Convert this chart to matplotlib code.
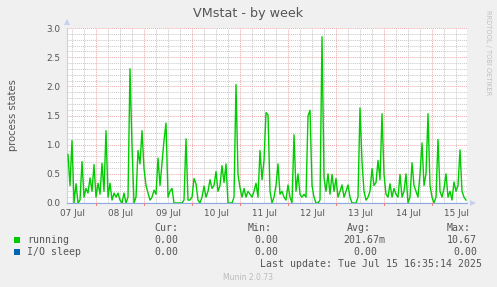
import matplotlib
matplotlib.use("Agg")
import matplotlib.pyplot as plt
from matplotlib.patches import Rectangle, Polygon
import numpy as np

# ---- data (hourly samples, hours since 07 Jul 00:00) ----
start_hour = 10
running = [
    0.83, 0.30, 1.07, 0.00, 0.33, 0.00, 0.05, 0.71, 0.10, 0.25,  # 10-19
    0.17, 0.43, 0.20, 0.66, 0.10, 0.34, 0.15, 0.68, 0.20, 1.24,  # 20-29
    0.10, 0.34, 0.05, 0.17, 0.10, 0.17, 0.05, 0.00, 0.17, 0.00,  # 30-39
    0.10, 2.30, 0.97, 0.00, 0.10, 0.90, 0.67, 1.24, 0.59, 0.30,  # 40-49
    0.17, 0.05, 0.10, 0.22, 0.15, 0.77, 0.30, 0.69, 1.07, 1.37,  # 50-59
    0.10, 0.20, 0.25, 0.00, 0.00, 0.00, 0.00, 0.00, 0.05, 1.10,  # 60-69
    0.05, 0.05, 0.10, 0.42, 0.33, 0.05, 0.00, 0.10, 0.29, 0.10,  # 70-79
    0.20, 0.40, 0.25, 0.30, 0.54, 0.20, 0.30, 0.64, 0.35, 0.67,  # 80-89
    0.00, 0.00, 0.00, 0.10, 2.03, 0.49, 0.26, 0.10, 0.25, 0.10,  # 90-99
    0.20, 0.15, 0.10, 0.20, 0.34, 0.10, 0.90, 0.40, 0.73, 1.55,  # 100-109
    1.51, 0.20, 0.00, 0.10, 0.30, 0.67, 0.15, 0.20, 0.10, 0.05,  # 110-119
    0.31, 0.10, 0.00, 1.17, 0.20, 0.50, 0.15, 0.10, 0.15, 0.10,  # 120-129
    1.49, 1.59, 0.30, 0.10, 0.00, 0.00, 0.05, 2.85, 0.43, 0.20,  # 130-139
    0.50, 0.15, 0.49, 0.20, 0.42, 0.10, 0.20, 0.31, 0.10, 0.20,  # 140-149
    0.31, 0.10, 0.00, 0.00, 0.00, 0.10, 1.63, 0.71, 0.20, 0.05,  # 150-159
    0.10, 0.20, 0.59, 0.30, 0.35, 0.73, 0.40, 1.53, 0.49, 0.15,  # 160-169
    0.10, 0.33, 0.10, 0.25, 0.15, 0.10, 0.49, 0.10, 0.20, 0.50,  # 170-179
    0.00, 0.10, 0.69, 0.30, 0.20, 0.10, 0.50, 1.03, 0.30, 0.50,  # 180-189
    1.53, 0.30, 0.10, 0.00, 0.10, 1.09, 0.20, 0.10, 0.25, 0.50,  # 190-199
    0.10, 0.20, 0.05, 0.36, 0.20, 0.30, 0.91, 0.20, 0.10, 0.05,  # 200-209
]
io_sleep = [0.0] * len(running)
hours = np.arange(start_hour, start_hour + len(running))

day_labels = ["07 Jul", "08 Jul", "09 Jul", "10 Jul", "11 Jul",
              "12 Jul", "13 Jul", "14 Jul", "15 Jul"]
y_ticks = [0.0, 0.5, 1.0, 1.5, 2.0, 2.5, 3.0]

series_names = ["running", "I/O sleep"]
series_colors = ["#00CC00", "#0066B3"]
cur = ["0.00", "0.00"]
mins = ["0.00", "0.00"]
avgs = ["201.67m", "0.00"]
maxs = ["10.67", "0.00"]

# ---- figure ----
W, H = 497, 287
fig = plt.figure(figsize=(W / 100, H / 100), dpi=100, facecolor="#F0F0F0")

def fx(x):
    return x / W

def fy(y):
    return 1 - y / H

L, R, T, B = 67, 467, 28, 203
ax = fig.add_axes([fx(L), fy(B), (R - L) / W, (B - T) / H])
ax.set_facecolor("white")
xmin, xmax = 9.5, 209.5
ax.set_xlim(xmin, xmax)
ax.set_ylim(0, 3.0)

# grid
minor_c = "#C8C8C8"
major_c = "#F0A8A8"
for v in np.arange(0.1, 3.01, 0.1):
    if abs(v * 2 - round(v * 2)) < 1e-6:
        continue
    ax.axhline(v, color=minor_c, lw=0.7, ls=(0, (1, 1)), zorder=1)
for v in np.arange(0.5, 3.01, 0.5):
    ax.axhline(v, color=major_c, lw=0.7, ls=(0, (1, 1)), zorder=1)
for h in np.arange(12, xmax, 6):
    if h % 24 == 0:
        continue
    ax.axvline(h, color=minor_c, lw=0.7, ls=(0, (1, 1)), zorder=1)
for h in np.arange(24, xmax, 24):
    ax.axvline(h, color=major_c, lw=0.7, ls=(0, (1, 1)), zorder=1)

ax.plot(hours, running, color=series_colors[0], lw=1.0, zorder=3)
ax.plot(hours, io_sleep, color=series_colors[1], lw=0.8, alpha=0.5, zorder=4)

for s in ["top", "right"]:
    ax.spines[s].set_visible(False)
ax.spines["left"].set_color("#C8D0F0")
ax.spines["bottom"].set_color("#90A8E0")
ax.spines["left"].set_linewidth(0.8)
ax.spines["bottom"].set_linewidth(0.8)

ax.set_yticks(y_ticks)
ax.set_yticklabels([f"{v:.1f}" for v in y_ticks])
ax.set_xticks([12 + 24 * i for i in range(len(day_labels))])
ax.set_xticklabels(day_labels)
ax.tick_params(axis="both", length=0, labelsize=6.4, labelcolor="#555555")
ax.tick_params(axis="y", pad=5)
ax.tick_params(axis="x", pad=4)
# small red ticks at midnights below the axis
for h in np.arange(24, xmax, 24):
    ax.plot([h, h], [0, -0.03], color="#F08080", lw=0.7, clip_on=False, zorder=5)

# arrows
fig.patches.append(Polygon([[fx(64), fy(25)], [fx(70), fy(25)], [fx(67), fy(19)]],
                           closed=True, transform=fig.transFigure,
                           facecolor="#C8D0F0", edgecolor="none"))
fig.patches.append(Polygon([[fx(470), fy(200)], [fx(470), fy(206)], [fx(476), fy(203)]],
                           closed=True, transform=fig.transFigure,
                           facecolor="#C8D0F0", edgecolor="none"))

# texts
fig.text(fx(248), fy(14), "VMstat - by week", ha="center", va="center",
         fontsize=9.2, color="#555555")
fig.text(fx(13), fy(115), "process states", ha="center", va="center",
         rotation=90, fontsize=7.2, color="#555555")
fig.text(fx(488), fy(53), "RRDTOOL / TOBI OETIKER", ha="center", va="center",
         rotation=270, fontsize=4.8, color="#C0C0C0")

mono = "DejaVu Sans Mono"
tc = "#555555"
fs = 7.1
fig.text(fx(178), fy(228), "Cur:", ha="right", va="center", family=mono, fontsize=fs, color=tc)
fig.text(fx(272), fy(228), "Min:", ha="right", va="center", family=mono, fontsize=fs, color=tc)
fig.text(fx(371), fy(228), "Avg:", ha="right", va="center", family=mono, fontsize=fs, color=tc)
fig.text(fx(471), fy(228), "Max:", ha="right", va="center", family=mono, fontsize=fs, color=tc)

rows_y = [240, 252]
for i, name in enumerate(series_names):
    y = rows_y[i]
    fig.patches.append(Rectangle((fx(14), fy(y + 3)), 6 / W, 6 / H,
                                 transform=fig.transFigure,
                                 facecolor=series_colors[i], edgecolor="none"))
    fig.text(fx(27), fy(y), name, ha="left", va="center", family=mono, fontsize=fs, color=tc)
    fig.text(fx(178), fy(y), cur[i], ha="right", va="center", family=mono, fontsize=fs, color=tc)
    fig.text(fx(278), fy(y), mins[i], ha="right", va="center", family=mono, fontsize=fs, color=tc)
    fig.text(fx(385 if i == 0 else 377), fy(y), avgs[i], ha="right", va="center",
             family=mono, fontsize=fs, color=tc)
    fig.text(fx(477), fy(y), maxs[i], ha="right", va="center", family=mono, fontsize=fs, color=tc)

fig.text(fx(482), fy(264), "Last update: Tue Jul 15 16:35:14 2025", ha="right",
         va="center", family=mono, fontsize=fs, color=tc)
fig.text(fx(248), fy(277), "Munin 2.0.73", ha="center", va="center",
         fontsize=5.5, color="#BBBBBB")

fig.savefig("out.png", dpi=100, facecolor=fig.get_facecolor())
